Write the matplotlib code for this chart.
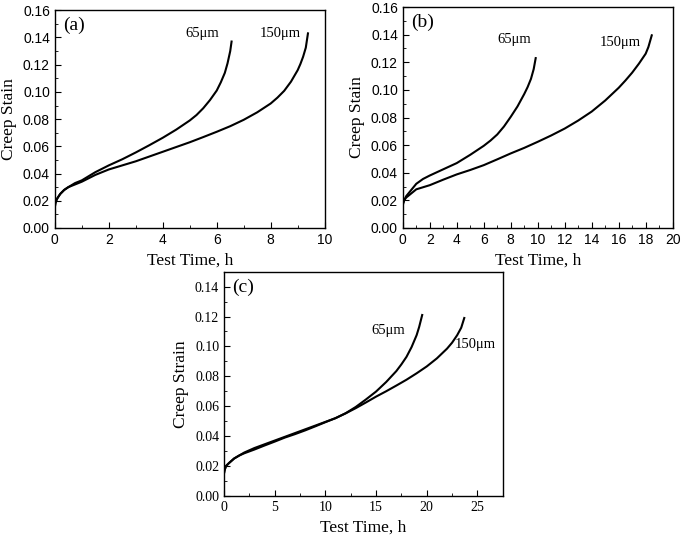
import numpy as np
import matplotlib.pyplot as plt
from matplotlib.ticker import MultipleLocator

# panel (a)
a_t65 = [0, 0.02, 0.05, 0.1, 0.2, 0.35, 0.5, 0.75, 1, 1.5, 2, 2.5, 3, 3.5, 4, 4.5, 5, 5.25, 5.5, 5.75, 6, 6.15, 6.3, 6.4, 6.5, 6.55]
a_s65 = [0.015, 0.018, 0.020, 0.022, 0.025, 0.028, 0.030, 0.033, 0.035, 0.041, 0.046, 0.0505, 0.0555, 0.0608, 0.0663, 0.0723, 0.079, 0.083, 0.088, 0.094, 0.101, 0.107, 0.114, 0.121, 0.130, 0.137]
a_t150 = [0, 0.02, 0.05, 0.1, 0.2, 0.35, 0.5, 0.75, 1, 1.5, 2, 2.5, 3, 3.5, 4, 4.5, 5, 5.5, 6, 6.5, 7, 7.5, 8, 8.25, 8.5, 8.75, 9, 9.1, 9.2, 9.3, 9.38]
a_s150 = [0.015, 0.018, 0.020, 0.022, 0.025, 0.028, 0.030, 0.032, 0.034, 0.039, 0.043, 0.046, 0.049, 0.0525, 0.056, 0.0595, 0.063, 0.0668, 0.0707, 0.0748, 0.0795, 0.085, 0.0915, 0.0958, 0.1008, 0.1075, 0.116, 0.1205, 0.1258, 0.1325, 0.143]

# panel (b)
b_t65 = [0, 0.03, 0.1, 0.25, 0.5, 1, 1.5, 2, 3, 4, 5, 6, 6.5, 7, 7.5, 8, 8.5, 9, 9.25, 9.5, 9.7, 9.85]
b_s65 = [0.016, 0.018, 0.020, 0.023, 0.026, 0.032, 0.0355, 0.038, 0.0425, 0.047, 0.053, 0.0595, 0.0633, 0.0677, 0.0735, 0.0805, 0.088, 0.097, 0.102, 0.108, 0.115, 0.123]
b_t150 = [0, 0.03, 0.1, 0.25, 0.5, 1, 1.5, 2, 3, 4, 5, 6, 7, 8, 9, 10, 11, 12, 13, 14, 15, 16, 16.5, 17, 17.5, 18, 18.2, 18.45]
b_s150 = [0.016, 0.018, 0.020, 0.022, 0.024, 0.028, 0.0295, 0.031, 0.035, 0.0388, 0.042, 0.0455, 0.0497, 0.054, 0.058, 0.0624, 0.067, 0.072, 0.0778, 0.0843, 0.0923, 0.1015, 0.1068, 0.1125, 0.119, 0.1262, 0.131, 0.1395]

# panel (c)
c_t65 = [0, 0.05, 0.2, 0.5, 1, 1.5, 2, 3, 4, 5, 6, 7, 8, 9, 10, 11, 12, 13, 14, 15, 16, 17, 17.5, 18, 18.5, 19, 19.25, 19.55]
c_s65 = [0.015, 0.017, 0.020, 0.022, 0.025, 0.027, 0.0285, 0.031, 0.0337, 0.0363, 0.039, 0.0413, 0.0438, 0.0465, 0.0493, 0.052, 0.0553, 0.0595, 0.0645, 0.0698, 0.0762, 0.0835, 0.088, 0.093, 0.0995, 0.1075, 0.113, 0.121]
c_t150 = [0, 0.05, 0.2, 0.5, 1, 1.5, 2, 3, 4, 5, 6, 7, 8, 9, 10, 11, 12, 13, 14, 15, 16, 17, 18, 19, 20, 21, 22, 22.5, 23, 23.4, 23.7]
c_s150 = [0.015, 0.017, 0.020, 0.022, 0.025, 0.027, 0.029, 0.032, 0.0345, 0.037, 0.0395, 0.042, 0.0445, 0.047, 0.0495, 0.052, 0.0552, 0.0587, 0.0625, 0.0664, 0.070, 0.0738, 0.0777, 0.082, 0.0866, 0.092, 0.0985, 0.1025, 0.1075, 0.1125, 0.119]

serif = 'Liberation Serif'
sans = 'Liberation Sans'

fig = plt.figure(figsize=(6.85, 5.39), dpi=100)
ax_a = fig.add_axes([0.080, 0.577, 0.394, 0.404])
ax_b = fig.add_axes([0.588, 0.577, 0.394, 0.410])
ax_c = fig.add_axes([0.327, 0.080, 0.407, 0.416])

panels = [
    (ax_a, a_t65, a_s65, a_t150, a_s150, (0, 10), 2, 1, (0, 0.16), sans, '(a)', 'Creep Stain', (4.85, 0.14), (7.6, 0.14)),
    (ax_b, b_t65, b_s65, b_t150, b_s150, (0, 20), 2, 1, (0, 0.16), sans, '(b)', 'Creep Stain', (7.0, 0.134), (14.6, 0.132)),
    (ax_c, c_t65, c_s65, c_t150, c_s150, (0, 27.5), 5, 2.5, (0, 0.15), serif, '(c)', 'Creep Strain', (14.5, 0.108), (22.8, 0.099)),
]

for ax, t1, s1, t2, s2, xl, xmaj, xmin, yl, tickfont, tag, ylab, pos65, pos150 in panels:
    ax.plot(t1, s1, color='black', lw=1.5)
    ax.plot(t2, s2, color='black', lw=1.5)
    ax.set_xlim(xl)
    ax.set_ylim(yl)
    ax.xaxis.set_major_locator(MultipleLocator(xmaj))
    ax.xaxis.set_minor_locator(MultipleLocator(xmin))
    ax.yaxis.set_major_locator(MultipleLocator(0.02))
    ax.yaxis.set_minor_locator(MultipleLocator(0.01))
    ax.yaxis.set_major_formatter(plt.FormatStrFormatter('%.2f'))
    ax.tick_params(which='both', direction='in', top=False, right=False)
    ax.tick_params(which='major', length=4, labelsize=10, labelfontfamily=tickfont)
    ax.tick_params(which='minor', length=2)
    for sp in ax.spines.values():
        sp.set_linewidth(1.0)
    ax.set_xlabel('Test Time, h', fontfamily=serif, fontsize=12.5)
    ax.set_ylabel(ylab, fontfamily=serif, fontsize=12.5)
    ax.text(0.03, 0.97, tag, transform=ax.transAxes, ha='left', va='top', fontfamily=serif, fontsize=14)
    ax.text(pos65[0], pos65[1], '65μm', fontfamily=serif, fontsize=10.5)
    ax.text(pos150[0], pos150[1], '150μm', fontfamily=serif, fontsize=10.5)

fig.savefig('out.png', dpi=100)
